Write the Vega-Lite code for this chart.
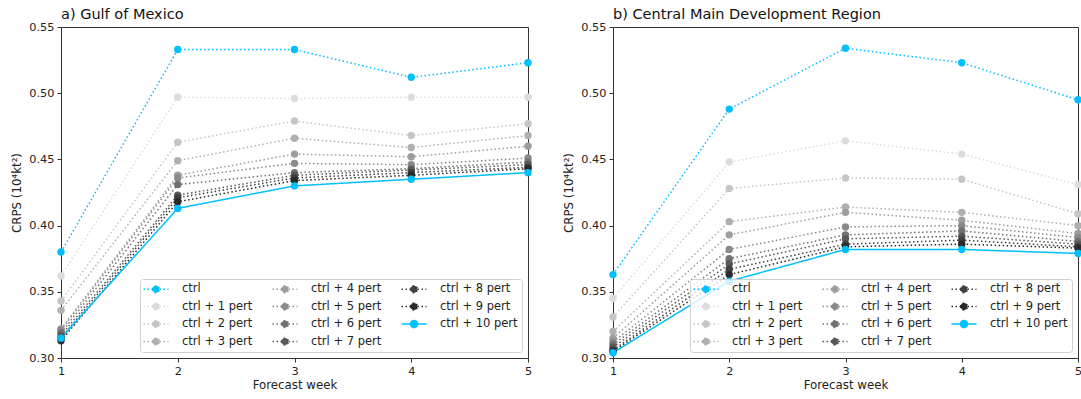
{
  "$schema": "https://vega.github.io/schema/vega-lite/v6.json",
  "padding": {"left": 11, "top": 6, "right": 0, "bottom": 0},
  "background": "white",
  "config": {
    "font": "DejaVu Sans",
    "view": {"stroke": "#333333", "strokeWidth": 1},
    "axis": {
      "grid": false,
      "domain": false,
      "labelFlush": false,
      "tickColor": "#333333",
      "tickSize": 4,
      "labelColor": "#222222",
      "labelFontSize": 11.3,
      "labelPadding": 3,
      "titleColor": "#222222",
      "titleFontSize": 11.8,
      "titleFontWeight": "normal"
    },
    "title": {"anchor": "start", "frame": "group", "fontSize": 14.5, "fontWeight": "normal", "color": "#111111", "offset": -1},
    "legend": {
      "title": null,
      "orient": "none",
      "columns": 3,
      "columnPadding": 16,
      "rowPadding": 3.5,
      "padding": 4,
      "strokeColor": "#d0d0d0",
      "fillColor": "rgba(255,255,255,0.8)",
      "cornerRadius": 3,
      "labelFontSize": 11.5,
      "labelColor": "#222222",
      "labelOffset": 20,
      "symbolOffset": 6,
      "symbolType": "M-2.5,0H2.5M-0.7,0A0.7,0.7 0 1,0 0.7,0A0.7,0.7 0 1,0 -0.7,0Z",
      "symbolSize": 100,
      "symbolStrokeWidth": 1.5
    },
    "concat": {"spacing": 30}
  },
  "datasets": {
    "crps": [
      {"region": "gom", "series": "ctrl", "week": 1, "crps": 0.380},
      {"region": "gom", "series": "ctrl", "week": 2, "crps": 0.533},
      {"region": "gom", "series": "ctrl", "week": 3, "crps": 0.533},
      {"region": "gom", "series": "ctrl", "week": 4, "crps": 0.512},
      {"region": "gom", "series": "ctrl", "week": 5, "crps": 0.523},
      {"region": "gom", "series": "ctrl + 1 pert", "week": 1, "crps": 0.362},
      {"region": "gom", "series": "ctrl + 1 pert", "week": 2, "crps": 0.497},
      {"region": "gom", "series": "ctrl + 1 pert", "week": 3, "crps": 0.496},
      {"region": "gom", "series": "ctrl + 1 pert", "week": 4, "crps": 0.497},
      {"region": "gom", "series": "ctrl + 1 pert", "week": 5, "crps": 0.497},
      {"region": "gom", "series": "ctrl + 2 pert", "week": 1, "crps": 0.343},
      {"region": "gom", "series": "ctrl + 2 pert", "week": 2, "crps": 0.463},
      {"region": "gom", "series": "ctrl + 2 pert", "week": 3, "crps": 0.479},
      {"region": "gom", "series": "ctrl + 2 pert", "week": 4, "crps": 0.468},
      {"region": "gom", "series": "ctrl + 2 pert", "week": 5, "crps": 0.477},
      {"region": "gom", "series": "ctrl + 3 pert", "week": 1, "crps": 0.336},
      {"region": "gom", "series": "ctrl + 3 pert", "week": 2, "crps": 0.449},
      {"region": "gom", "series": "ctrl + 3 pert", "week": 3, "crps": 0.466},
      {"region": "gom", "series": "ctrl + 3 pert", "week": 4, "crps": 0.459},
      {"region": "gom", "series": "ctrl + 3 pert", "week": 5, "crps": 0.468},
      {"region": "gom", "series": "ctrl + 4 pert", "week": 1, "crps": 0.322},
      {"region": "gom", "series": "ctrl + 4 pert", "week": 2, "crps": 0.438},
      {"region": "gom", "series": "ctrl + 4 pert", "week": 3, "crps": 0.454},
      {"region": "gom", "series": "ctrl + 4 pert", "week": 4, "crps": 0.452},
      {"region": "gom", "series": "ctrl + 4 pert", "week": 5, "crps": 0.460},
      {"region": "gom", "series": "ctrl + 5 pert", "week": 1, "crps": 0.321},
      {"region": "gom", "series": "ctrl + 5 pert", "week": 2, "crps": 0.436},
      {"region": "gom", "series": "ctrl + 5 pert", "week": 3, "crps": 0.447},
      {"region": "gom", "series": "ctrl + 5 pert", "week": 4, "crps": 0.446},
      {"region": "gom", "series": "ctrl + 5 pert", "week": 5, "crps": 0.451},
      {"region": "gom", "series": "ctrl + 6 pert", "week": 1, "crps": 0.319},
      {"region": "gom", "series": "ctrl + 6 pert", "week": 2, "crps": 0.431},
      {"region": "gom", "series": "ctrl + 6 pert", "week": 3, "crps": 0.440},
      {"region": "gom", "series": "ctrl + 6 pert", "week": 4, "crps": 0.443},
      {"region": "gom", "series": "ctrl + 6 pert", "week": 5, "crps": 0.448},
      {"region": "gom", "series": "ctrl + 7 pert", "week": 1, "crps": 0.317},
      {"region": "gom", "series": "ctrl + 7 pert", "week": 2, "crps": 0.423},
      {"region": "gom", "series": "ctrl + 7 pert", "week": 3, "crps": 0.438},
      {"region": "gom", "series": "ctrl + 7 pert", "week": 4, "crps": 0.442},
      {"region": "gom", "series": "ctrl + 7 pert", "week": 5, "crps": 0.446},
      {"region": "gom", "series": "ctrl + 8 pert", "week": 1, "crps": 0.315},
      {"region": "gom", "series": "ctrl + 8 pert", "week": 2, "crps": 0.421},
      {"region": "gom", "series": "ctrl + 8 pert", "week": 3, "crps": 0.436},
      {"region": "gom", "series": "ctrl + 8 pert", "week": 4, "crps": 0.440},
      {"region": "gom", "series": "ctrl + 8 pert", "week": 5, "crps": 0.444},
      {"region": "gom", "series": "ctrl + 9 pert", "week": 1, "crps": 0.313},
      {"region": "gom", "series": "ctrl + 9 pert", "week": 2, "crps": 0.418},
      {"region": "gom", "series": "ctrl + 9 pert", "week": 3, "crps": 0.434},
      {"region": "gom", "series": "ctrl + 9 pert", "week": 4, "crps": 0.438},
      {"region": "gom", "series": "ctrl + 9 pert", "week": 5, "crps": 0.443},
      {"region": "gom", "series": "ctrl + 10 pert", "week": 1, "crps": 0.315},
      {"region": "gom", "series": "ctrl + 10 pert", "week": 2, "crps": 0.413},
      {"region": "gom", "series": "ctrl + 10 pert", "week": 3, "crps": 0.430},
      {"region": "gom", "series": "ctrl + 10 pert", "week": 4, "crps": 0.435},
      {"region": "gom", "series": "ctrl + 10 pert", "week": 5, "crps": 0.440},
      {"region": "mdr", "series": "ctrl", "week": 1, "crps": 0.363},
      {"region": "mdr", "series": "ctrl", "week": 2, "crps": 0.488},
      {"region": "mdr", "series": "ctrl", "week": 3, "crps": 0.534},
      {"region": "mdr", "series": "ctrl", "week": 4, "crps": 0.523},
      {"region": "mdr", "series": "ctrl", "week": 5, "crps": 0.495},
      {"region": "mdr", "series": "ctrl + 1 pert", "week": 1, "crps": 0.345},
      {"region": "mdr", "series": "ctrl + 1 pert", "week": 2, "crps": 0.448},
      {"region": "mdr", "series": "ctrl + 1 pert", "week": 3, "crps": 0.464},
      {"region": "mdr", "series": "ctrl + 1 pert", "week": 4, "crps": 0.454},
      {"region": "mdr", "series": "ctrl + 1 pert", "week": 5, "crps": 0.431},
      {"region": "mdr", "series": "ctrl + 2 pert", "week": 1, "crps": 0.331},
      {"region": "mdr", "series": "ctrl + 2 pert", "week": 2, "crps": 0.428},
      {"region": "mdr", "series": "ctrl + 2 pert", "week": 3, "crps": 0.436},
      {"region": "mdr", "series": "ctrl + 2 pert", "week": 4, "crps": 0.435},
      {"region": "mdr", "series": "ctrl + 2 pert", "week": 5, "crps": 0.409},
      {"region": "mdr", "series": "ctrl + 3 pert", "week": 1, "crps": 0.320},
      {"region": "mdr", "series": "ctrl + 3 pert", "week": 2, "crps": 0.403},
      {"region": "mdr", "series": "ctrl + 3 pert", "week": 3, "crps": 0.414},
      {"region": "mdr", "series": "ctrl + 3 pert", "week": 4, "crps": 0.410},
      {"region": "mdr", "series": "ctrl + 3 pert", "week": 5, "crps": 0.400},
      {"region": "mdr", "series": "ctrl + 4 pert", "week": 1, "crps": 0.315},
      {"region": "mdr", "series": "ctrl + 4 pert", "week": 2, "crps": 0.393},
      {"region": "mdr", "series": "ctrl + 4 pert", "week": 3, "crps": 0.410},
      {"region": "mdr", "series": "ctrl + 4 pert", "week": 4, "crps": 0.404},
      {"region": "mdr", "series": "ctrl + 4 pert", "week": 5, "crps": 0.394},
      {"region": "mdr", "series": "ctrl + 5 pert", "week": 1, "crps": 0.312},
      {"region": "mdr", "series": "ctrl + 5 pert", "week": 2, "crps": 0.382},
      {"region": "mdr", "series": "ctrl + 5 pert", "week": 3, "crps": 0.399},
      {"region": "mdr", "series": "ctrl + 5 pert", "week": 4, "crps": 0.400},
      {"region": "mdr", "series": "ctrl + 5 pert", "week": 5, "crps": 0.391},
      {"region": "mdr", "series": "ctrl + 6 pert", "week": 1, "crps": 0.310},
      {"region": "mdr", "series": "ctrl + 6 pert", "week": 2, "crps": 0.375},
      {"region": "mdr", "series": "ctrl + 6 pert", "week": 3, "crps": 0.393},
      {"region": "mdr", "series": "ctrl + 6 pert", "week": 4, "crps": 0.396},
      {"region": "mdr", "series": "ctrl + 6 pert", "week": 5, "crps": 0.388},
      {"region": "mdr", "series": "ctrl + 7 pert", "week": 1, "crps": 0.308},
      {"region": "mdr", "series": "ctrl + 7 pert", "week": 2, "crps": 0.371},
      {"region": "mdr", "series": "ctrl + 7 pert", "week": 3, "crps": 0.390},
      {"region": "mdr", "series": "ctrl + 7 pert", "week": 4, "crps": 0.392},
      {"region": "mdr", "series": "ctrl + 7 pert", "week": 5, "crps": 0.386},
      {"region": "mdr", "series": "ctrl + 8 pert", "week": 1, "crps": 0.306},
      {"region": "mdr", "series": "ctrl + 8 pert", "week": 2, "crps": 0.367},
      {"region": "mdr", "series": "ctrl + 8 pert", "week": 3, "crps": 0.386},
      {"region": "mdr", "series": "ctrl + 8 pert", "week": 4, "crps": 0.389},
      {"region": "mdr", "series": "ctrl + 8 pert", "week": 5, "crps": 0.384},
      {"region": "mdr", "series": "ctrl + 9 pert", "week": 1, "crps": 0.305},
      {"region": "mdr", "series": "ctrl + 9 pert", "week": 2, "crps": 0.363},
      {"region": "mdr", "series": "ctrl + 9 pert", "week": 3, "crps": 0.384},
      {"region": "mdr", "series": "ctrl + 9 pert", "week": 4, "crps": 0.386},
      {"region": "mdr", "series": "ctrl + 9 pert", "week": 5, "crps": 0.383},
      {"region": "mdr", "series": "ctrl + 10 pert", "week": 1, "crps": 0.304},
      {"region": "mdr", "series": "ctrl + 10 pert", "week": 2, "crps": 0.358},
      {"region": "mdr", "series": "ctrl + 10 pert", "week": 3, "crps": 0.382},
      {"region": "mdr", "series": "ctrl + 10 pert", "week": 4, "crps": 0.382},
      {"region": "mdr", "series": "ctrl + 10 pert", "week": 5, "crps": 0.379}
    ]
  },
  "resolve": {"legend": {"color": "independent"}},
  "hconcat": [
    {
      "title": "a) Gulf of Mexico",
      "width": 467,
      "height": 331,
      "data": {"name": "crps"},
      "transform": [{"filter": "datum.region === 'gom'"}],
      "encoding": {
        "x": {"field": "week", "type": "quantitative", "scale": {"domain": [1, 5], "nice": false, "zero": false}, "axis": {"values": [1, 2, 3, 4, 5], "format": "d", "title": "Forecast week", "titlePadding": 3}},
        "y": {"field": "crps", "type": "quantitative", "scale": {"domain": [0.3, 0.55], "nice": false, "zero": false}, "axis": {"values": [0.3, 0.35, 0.4, 0.45, 0.5, 0.55], "format": ".2f", "title": "CRPS (10⁴kt²)", "titlePadding": 6}},
        "color": {
          "field": "series", "type": "nominal",
          "scale": {
            "domain": ["ctrl", "ctrl + 1 pert", "ctrl + 2 pert", "ctrl + 3 pert", "ctrl + 4 pert", "ctrl + 5 pert", "ctrl + 6 pert", "ctrl + 7 pert", "ctrl + 8 pert", "ctrl + 9 pert", "ctrl + 10 pert"],
            "range": ["#00bfff", "#dcdcdc", "#c6c6c6", "#b0b0b0", "#9e9e9e", "#8a8a8a", "#727272", "#585858", "#404040", "#2a2a2a", "#00bfff"]
          },
          "legend": {
            "legendX": 79, "legendY": 252,
            "encode": {"symbols": {"update": {
              "fill": {"scale": "color", "field": "value"},
              "stroke": {"scale": "color", "field": "value"},
              "strokeDash": {"scale": "strokeDash", "field": "value"},
              "opacity": {"value": 1}
            }}}
          }
        }
      },
      "layer": [
        {
          "mark": {"type": "line", "strokeWidth": 1.5},
          "encoding": {
            "strokeDash": {
              "field": "series", "type": "nominal", "legend": null,
              "scale": {
                "domain": ["ctrl", "ctrl + 1 pert", "ctrl + 2 pert", "ctrl + 3 pert", "ctrl + 4 pert", "ctrl + 5 pert", "ctrl + 6 pert", "ctrl + 7 pert", "ctrl + 8 pert", "ctrl + 9 pert", "ctrl + 10 pert"],
                "range": [[1.5, 2.5], [1.5, 2.5], [1.5, 2.5], [1.5, 2.5], [1.5, 2.5], [1.5, 2.5], [1.5, 2.5], [1.5, 2.5], [1.5, 2.5], [1.5, 2.5], [1, 0]]
              }
            }
          }
        },
        {"mark": {"type": "point", "filled": true, "size": 55, "opacity": 1}}
      ]
    },
    {
      "title": "b) Central Main Development Region",
      "width": 465,
      "height": 331,
      "data": {"name": "crps"},
      "transform": [{"filter": "datum.region === 'mdr'"}],
      "encoding": {
        "x": {"field": "week", "type": "quantitative", "scale": {"domain": [1, 5], "nice": false, "zero": false}, "axis": {"values": [1, 2, 3, 4, 5], "format": "d", "title": "Forecast week", "titlePadding": 3}},
        "y": {"field": "crps", "type": "quantitative", "scale": {"domain": [0.3, 0.55], "nice": false, "zero": false}, "axis": {"values": [0.3, 0.35, 0.4, 0.45, 0.5, 0.55], "format": ".2f", "title": "CRPS (10⁴kt²)", "titlePadding": 6}},
        "color": {
          "field": "series", "type": "nominal",
          "scale": {
            "domain": ["ctrl", "ctrl + 1 pert", "ctrl + 2 pert", "ctrl + 3 pert", "ctrl + 4 pert", "ctrl + 5 pert", "ctrl + 6 pert", "ctrl + 7 pert", "ctrl + 8 pert", "ctrl + 9 pert", "ctrl + 10 pert"],
            "range": ["#00bfff", "#dcdcdc", "#c6c6c6", "#b0b0b0", "#9e9e9e", "#8a8a8a", "#727272", "#585858", "#404040", "#2a2a2a", "#00bfff"]
          },
          "legend": {
            "legendX": 77, "legendY": 252,
            "encode": {"symbols": {"update": {
              "fill": {"scale": "color", "field": "value"},
              "stroke": {"scale": "color", "field": "value"},
              "strokeDash": {"scale": "strokeDash", "field": "value"},
              "opacity": {"value": 1}
            }}}
          }
        }
      },
      "layer": [
        {
          "mark": {"type": "line", "strokeWidth": 1.5},
          "encoding": {
            "strokeDash": {
              "field": "series", "type": "nominal", "legend": null,
              "scale": {
                "domain": ["ctrl", "ctrl + 1 pert", "ctrl + 2 pert", "ctrl + 3 pert", "ctrl + 4 pert", "ctrl + 5 pert", "ctrl + 6 pert", "ctrl + 7 pert", "ctrl + 8 pert", "ctrl + 9 pert", "ctrl + 10 pert"],
                "range": [[1.5, 2.5], [1.5, 2.5], [1.5, 2.5], [1.5, 2.5], [1.5, 2.5], [1.5, 2.5], [1.5, 2.5], [1.5, 2.5], [1.5, 2.5], [1.5, 2.5], [1, 0]]
              }
            }
          }
        },
        {"mark": {"type": "point", "filled": true, "size": 55, "opacity": 1}}
      ]
    }
  ]
}
